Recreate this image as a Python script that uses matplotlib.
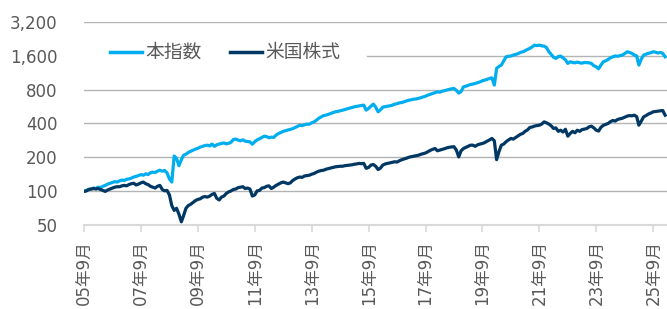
import matplotlib
matplotlib.use("Agg")
import matplotlib.pyplot as plt
import matplotlib.ticker as mticker
import pandas as pd

plt.rcParams['font.family'] = ['DejaVu Sans', 'Noto Sans CJK JP']

# monthly points, Sep 2005 - Feb 2026
dates = pd.date_range("2005-09-01", periods=246, freq="MS")

index_vals = [
    99, 101, 103, 104, 106, 105, 108, 107, 110, 112, 115, 117,        # 05/09-06/08
    119, 121, 120, 123, 125, 124, 127, 128, 130, 133, 135, 137,       # 06/09-07/08
    140, 138, 142, 140, 145, 147, 146, 150, 153, 150, 152, 145,       # 07/09-08/08
    128, 120, 205, 195, 168, 190, 208, 213, 220, 226, 231, 236,       # 08/09-09/08
    240, 246, 250, 254, 256, 252, 262, 250, 258, 262, 265, 268,       # 09/09-10/08
    263, 266, 272, 288, 290, 284, 280, 286, 278, 276, 274, 261,       # 10/09-11/08
    275, 285, 292, 300, 308, 305, 298, 302, 300, 315, 325, 332,       # 11/09-12/08
    340, 345, 350, 354, 360, 368, 376, 386, 382, 390, 394, 394,       # 12/09-13/08
    405, 413, 428, 445, 458, 470, 474, 482, 490, 500, 508, 512,       # 13/09-14/08
    518, 525, 533, 540, 548, 555, 563, 568, 574, 578, 583, 526,       # 14/09-15/08
    545, 570, 595, 560, 508, 530, 559, 565, 570, 575, 582, 595,       # 15/09-16/08
    600, 611, 615, 625, 635, 646, 650, 658, 662, 669, 678, 690,       # 16/09-17/08
    700, 716, 728, 740, 752, 766, 760, 775, 785, 795, 805, 815,       # 17/09-18/08
    820, 790, 746, 770, 849, 860, 875, 890, 898, 910, 925, 940,       # 18/09-19/08
    961, 975, 990, 1009, 1020, 879, 1240, 1290, 1327, 1450, 1574, 1590,   # 19/09-20/08
    1600, 1630, 1650, 1680, 1720, 1745, 1780, 1830, 1870, 1930, 2000, 1980,  # 20/09-21/08
    2000, 1970, 1960, 1900, 1745, 1650, 1560, 1523, 1580, 1597, 1540, 1480,  # 21/09-22/08
    1374, 1420, 1400, 1390, 1410, 1391, 1380, 1400, 1395, 1391, 1370, 1310,  # 22/09-23/08
    1280, 1230, 1330, 1420, 1450, 1490, 1540, 1574, 1600, 1590, 1610, 1630,  # 23/09-24/08
    1680, 1745, 1720, 1690, 1630, 1600, 1327, 1500, 1630, 1660, 1690, 1710,  # 24/09-25/08
    1745, 1730, 1700, 1720, 1688, 1574,                                      # 25/09-26/02
]

us_vals = [
    99, 100, 103, 104, 105, 104, 105, 103, 101, 99, 102, 104,         # 05/09-06/08
    106, 108, 109, 109, 111, 112, 111, 114, 116, 117, 113, 115,       # 06/09-07/08
    118, 120, 116, 114, 110, 108, 106, 110, 112, 103, 100, 101,       # 07/09-08/08
    92, 74, 67, 70, 62, 53, 60, 70, 74, 76, 79, 82,                   # 08/09-09/08
    84, 85, 88, 89, 88, 90, 93, 95, 86, 83, 88, 90,                   # 09/09-10/08
    95, 98, 100, 103, 104, 107, 108, 109, 105, 106, 104, 90,          # 10/09-11/08
    92, 100, 101, 106, 107, 110, 111, 105, 108, 112, 115, 118,        # 11/09-12/08
    120, 118, 116, 118, 124, 128, 131, 133, 132, 136, 137, 138,       # 12/09-13/08
    141, 143, 147, 150, 152, 153, 156, 158, 160, 162, 164, 165,       # 13/09-14/08
    166, 166, 168, 169, 170, 171, 173, 174, 176, 175, 176, 159,       # 14/09-15/08
    162, 170, 172, 166, 155, 160, 170, 174, 176, 178, 180, 182,       # 15/09-16/08
    181, 186, 190, 193, 196, 200, 202, 204, 206, 208, 212, 215,       # 16/09-17/08
    218, 224, 230, 235, 239, 228, 231, 234, 238, 242, 245, 247,       # 17/09-18/08
    248, 232, 201, 228, 239, 245, 250, 256, 256, 250, 258, 262,       # 18/09-19/08
    265, 270, 278, 285, 294, 280, 190, 225, 256, 262, 275, 285,       # 19/09-20/08
    294, 290, 300, 310, 320, 326, 340, 350, 368, 372, 379, 383,       # 20/09-21/08
    386, 395, 413, 405, 395, 380, 361, 365, 340, 348, 335, 355,       # 21/09-22/08
    308, 325, 340, 330, 348, 340, 352, 356, 360, 373, 378, 365,       # 22/09-23/08
    348, 342, 370, 385, 392, 400, 415, 425, 420, 434, 440, 445,       # 23/09-24/08
    455, 465, 470, 468, 474, 460, 386, 420, 458, 470, 485, 495,       # 24/09-25/08
    508, 512, 515, 519, 522, 474,                                     # 25/09-26/02
]

series_names = ["本指数", "米国株式"]
series_colors = ["#00AEEF", "#003763"]
y_ticks = [50, 100, 200, 400, 800, 1600, 3200]
x_tick_dates = pd.date_range("2005-09-01", "2025-09-01", freq="24MS")

text_color = "#595959"

fig = plt.figure(figsize=(6.67, 3.09), dpi=100)
ax = fig.add_axes([0.126, 0.273, 0.874, 0.655])

ax.plot(dates, index_vals, color=series_colors[0], lw=2.3, label=series_names[0], zorder=3)
ax.plot(dates, us_vals, color=series_colors[1], lw=2.3, label=series_names[1], zorder=3)

# log2 y axis
ax.set_yscale("log", base=2)
ax.set_ylim(50, 3200)
ax.yaxis.set_major_locator(mticker.FixedLocator(y_ticks))
ax.yaxis.set_minor_locator(mticker.NullLocator())
ax.set_yticklabels([f"{v:,}" for v in y_ticks])

# horizontal grid lines (1,600 line is hidden behind the legend on the left)
for v in y_ticks[1:]:
    start = 0.485 if v == 1600 else 0
    ax.axhline(v, xmin=start, color="#b3b3b3", lw=1.0, zorder=1)

ax.set_xlim(dates[0], dates[-1] + pd.Timedelta(days=24))
ax.set_xticks(x_tick_dates)
ax.set_xticklabels([f"{d:%y}年{d.month}月" for d in x_tick_dates], rotation=90)

for s in ["top", "right", "left"]:
    ax.spines[s].set_visible(False)
ax.spines["bottom"].set_color("#d9d9d9")
ax.spines["bottom"].set_linewidth(1.5)

ax.tick_params(axis="y", length=0, pad=19, labelsize=12, labelcolor=text_color)
ax.tick_params(axis="x", length=5, width=1.2, color="#d9d9d9", pad=6,
               labelsize=12, labelcolor=text_color)

leg = ax.legend(loc="upper left", bbox_to_anchor=(0.0446, 0.897), ncol=2,
                frameon=False, fontsize=13.5, handlelength=1.69,
                handletextpad=0.2, columnspacing=1.5, borderpad=0,
                borderaxespad=0)
for t in leg.get_texts():
    t.set_color(text_color)
for h in leg.get_lines():
    h.set_linewidth(2.5)

fig.savefig("out.png", dpi=100)
